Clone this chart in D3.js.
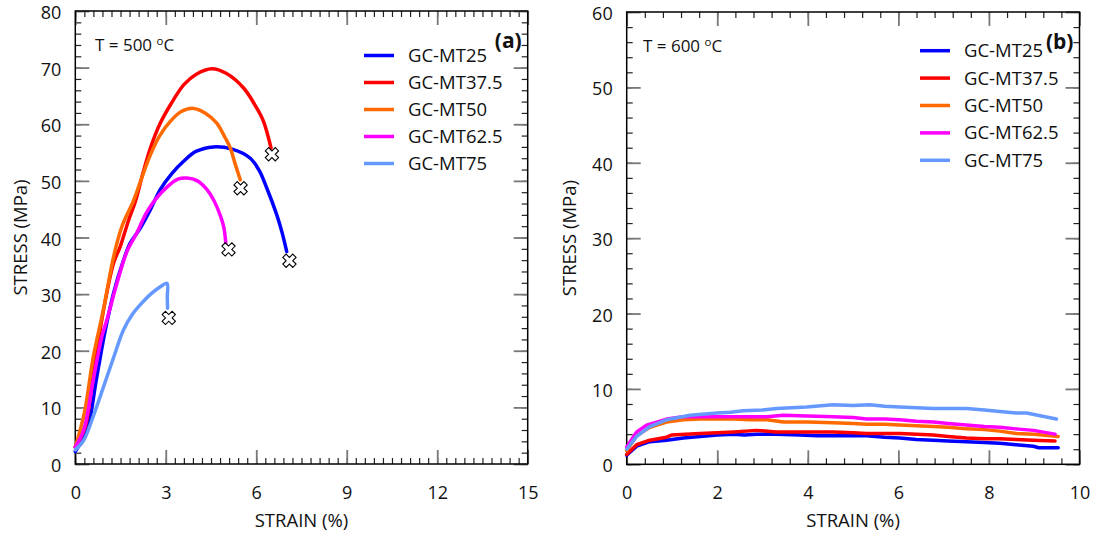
<!DOCTYPE html>
<html>
<head>
<meta charset="utf-8">
<script src="https://cdn.jsdelivr.net/npm/d3@7"></script>
<style>
  body { margin: 0; background: #fff; }
  svg text { font-family: "Open Sans", sans-serif; fill: #111; }
</style>
</head>
<body>
<svg id="chart" width="1096" height="535"></svg>
<script>
'use strict';

// series names and colours (shared by both panels)
const seriesNames = ['GC-MT25', 'GC-MT37.5', 'GC-MT50', 'GC-MT62.5', 'GC-MT75'];
const seriesColors = ['#0000ff', '#ff0000', '#ff6a00', '#ff00ff', '#6699ff'];

// T = 500 C, [strain %, stress MPa]
const mt25_500 = [[0, 2.2], [0.39, 6], [0.7, 15], [0.99, 23.5], [1.27, 30.2], [1.6, 36], [1.82, 39], [2.15, 41.6],
  [2.45, 44.5], [2.82, 48.5], [3.2, 51.3], [3.6, 53.5], [4.0, 55.2], [4.58, 56], [5.2, 55.6], [5.8, 54],
  [6.1, 51.8], [6.35, 48.7], [6.68, 44], [6.85, 41], [7.01, 37.5]];
const mt375_500 = [[0, 3], [0.33, 6.6], [0.55, 14], [0.77, 21.9], [1.0, 29], [1.27, 35.5], [1.49, 38.4], [1.77, 43.1],
  [1.99, 46.3], [2.25, 51.5], [2.49, 55.8], [2.8, 60], [3.15, 63.4], [3.6, 67], [4.0, 68.8], [4.53, 69.8],
  [5.0, 69], [5.58, 66.4], [6.0, 63], [6.24, 60.5], [6.49, 55.8]];
const mt50_500 = [[0, 3], [0.3, 9], [0.6, 19], [0.94, 27.5], [1.27, 36.6], [1.55, 42], [1.93, 46.5], [2.2, 50.5],
  [2.49, 54.6], [2.8, 58], [3.15, 60.5], [3.5, 62.2], [3.92, 62.8], [4.3, 62], [4.69, 60.2], [4.95, 57.8],
  [5.14, 55.8], [5.3, 53], [5.47, 50.2]];
const mt625_500 = [[0, 3], [0.28, 6], [0.6, 15], [0.88, 22.5], [1.05, 25.5], [1.38, 31.9], [1.71, 37.5], [2.04, 40.8],
  [2.37, 44.5], [2.7, 47], [3.04, 48.9], [3.4, 50.3], [3.7, 50.5], [4.05, 50], [4.36, 48.5], [4.6, 46.5],
  [4.8, 44], [4.92, 41.9], [4.99, 39]];
const mt75_500 = [[0, 2.5], [0.28, 4.2], [0.6, 8.5], [0.94, 13.7], [1.27, 18.8], [1.6, 23.7], [1.9, 26.5],
  [2.15, 28.1], [2.5, 30], [2.82, 31.3], [3.04, 31.9], [3.05, 29.5], [3.06, 27.5]];
// fracture points (x markers)
const fracture_500 = [[7.1, 35.9], [6.52, 54.7], [5.48, 48.7], [5.08, 37.9], [3.1, 25.8]];

// T = 600 C
const mt25_600 = [[0, 1.2], [0.22, 2.4], [0.51, 3.0], [0.88, 3.2], [1.25, 3.5], [1.62, 3.7], [2.0, 3.9], [2.36, 4.0],
  [2.6, 3.9], [2.87, 4.0], [3.3, 4.0], [3.83, 3.9], [4.2, 3.8], [4.56, 3.8], [5.0, 3.8], [5.3, 3.8], [5.7, 3.6],
  [6.03, 3.5], [6.4, 3.3], [6.77, 3.2], [7.1, 3.1], [7.5, 3.0], [7.9, 2.9], [8.24, 2.8], [8.6, 2.6], [8.98, 2.4],
  [9.1, 2.2], [9.53, 2.2]];
const mt375_600 = [[0, 1.3], [0.22, 2.6], [0.51, 3.2], [0.88, 3.6], [1.0, 3.9], [1.3, 4.0], [1.62, 4.1], [2.0, 4.2],
  [2.36, 4.3], [2.87, 4.5], [3.3, 4.3], [3.83, 4.3], [4.2, 4.3], [4.56, 4.3], [5.0, 4.2], [5.3, 4.1], [5.7, 4.1],
  [6.03, 4.1], [6.4, 4.0], [6.77, 3.9], [7.1, 3.7], [7.5, 3.5], [7.9, 3.4], [8.24, 3.4], [8.6, 3.3], [8.98, 3.2],
  [9.46, 3.1]];
const mt50_600 = [[0, 1.8], [0.22, 3.8], [0.51, 4.9], [0.88, 5.6], [1.25, 5.9], [1.62, 6.0], [2.0, 6.0], [2.36, 6.0],
  [2.72, 5.9], [3.1, 5.9], [3.46, 5.6], [4.0, 5.6], [4.56, 5.5], [5.0, 5.4], [5.3, 5.3], [5.7, 5.3], [6.03, 5.2],
  [6.4, 5.1], [6.77, 5.0], [7.1, 4.9], [7.5, 4.7], [7.9, 4.6], [8.24, 4.4], [8.6, 4.1], [9.0, 4.0], [9.53, 3.7]];
const mt625_600 = [[0, 2.3], [0.22, 4.3], [0.44, 5.2], [0.88, 6.0], [1.25, 6.3], [1.62, 6.3], [1.99, 6.3],
  [2.36, 6.3], [2.72, 6.3], [3.1, 6.3], [3.46, 6.5], [4.0, 6.4], [4.56, 6.3], [5.0, 6.2], [5.3, 6.0], [5.7, 6.0],
  [6.03, 5.9], [6.4, 5.7], [6.77, 5.6], [7.1, 5.4], [7.5, 5.2], [7.9, 5.0], [8.24, 4.9], [8.6, 4.7], [8.98, 4.5],
  [9.46, 4.0]];
const mt75_600 = [[0, 2.0], [0.22, 3.7], [0.51, 5.0], [0.88, 5.9], [1.4, 6.5], [1.99, 6.8], [2.3, 6.9], [2.57, 7.1],
  [3.0, 7.2], [3.31, 7.4], [3.97, 7.6], [4.56, 7.9], [5.0, 7.8], [5.37, 7.9], [5.7, 7.7], [6.03, 7.6], [6.4, 7.5],
  [6.77, 7.4], [7.1, 7.4], [7.5, 7.4], [7.9, 7.2], [8.24, 7.0], [8.6, 6.8], [8.83, 6.8], [9.49, 6.0]];

const svg = d3.select('#chart');
const FONT = 18.5;

/**
 * Draw one stress/strain panel
 */
function drawPanel (opts) {
  const { left, right, top, bottom, xMax, xStep, xMinor, yMax, yStep, yMinor } = opts;

  const x = d3.scaleLinear().domain([0, xMax]).range([left, right]);
  const y = d3.scaleLinear().domain([0, yMax]).range([bottom, top]);
  const g = svg.append('g');

  const majorX = d3.range(0, xMax + 1e-9, xStep);
  const minorX = d3.range(0, xMax + 1e-9, xMinor);
  const majorY = d3.range(0, yMax + 1e-9, yStep);
  const minorY = d3.range(0, yMax + 1e-9, yMinor);

  // minor ticks on all sides
  const minor = [
    [d3.axisBottom(x).tickValues(minorX), `translate(0,${bottom})`],
    [d3.axisTop(x).tickValues(minorX), `translate(0,${top})`],
    [d3.axisLeft(y).tickValues(minorY), `translate(${left},0)`],
    [d3.axisRight(y).tickValues(minorY), `translate(${right},0)`]
  ];
  minor.forEach(([ax, tr]) => {
    const a = g.append('g').attr('transform', tr)
      .call(ax.tickSize(-6).tickFormat(''));
    a.select('.domain').remove();
    a.selectAll('line').attr('stroke', '#222').attr('stroke-width', 1.2);
  });

  // major ticks
  const major = [
    [d3.axisBottom(x).tickValues(majorX).tickFormat(d3.format('d')).tickPadding(22), `translate(0,${bottom})`],
    [d3.axisTop(x).tickValues(majorX).tickFormat(''), `translate(0,${top})`],
    [d3.axisLeft(y).tickValues(majorY).tickFormat(d3.format('d')).tickPadding(14), `translate(${left},0)`],
    [d3.axisRight(y).tickValues(majorY).tickFormat(''), `translate(${right},0)`]
  ];
  major.forEach(([ax, tr], k) => {
    const a = g.append('g').attr('transform', tr).call(ax.tickSize(-14));
    a.select('.domain').remove();
    a.selectAll('line').attr('stroke', '#777').attr('stroke-width', 1.8);
    a.selectAll('text').attr('font-family', '"Open Sans", sans-serif')
      .attr('font-size', 18).attr('fill', '#111');
    if (k === 2) a.selectAll('text').attr('dy', '0.42em');
  });

  // frame
  g.append('rect')
    .attr('x', left).attr('y', top)
    .attr('width', right - left).attr('height', bottom - top)
    .attr('fill', 'none').attr('stroke', '#000').attr('stroke-width', 1.5);

  // curves
  const line = d3.line()
    .x(d => x(d[0]))
    .y(d => y(d[1]))
    .curve(opts.curve);

  g.append('g').selectAll('path')
    .data(opts.series)
    .enter().append('path')
    .attr('d', line)
    .attr('fill', 'none')
    .attr('stroke', (d, i) => seriesColors[i])
    .attr('stroke-width', 3.5)
    .attr('stroke-linejoin', 'round')
    .attr('stroke-linecap', 'round');

  // fracture markers
  if (opts.fracture) {
    g.append('g').selectAll('path')
      .data(opts.fracture)
      .enter().append('path')
      .attr('transform', d => `translate(${x(d[0])},${y(d[1])}) rotate(45)`)
      .attr('d', d3.symbol(d3.symbolCross, 110))
      .attr('fill', '#fff')
      .attr('stroke', '#000')
      .attr('stroke-width', 1.1);
  }

  // legend
  const lg = g.append('g');
  seriesNames.forEach((name, i) => {
    const ly = opts.legendY + i * opts.legendStep;
    lg.append('line')
      .attr('x1', opts.legendX).attr('x2', opts.legendX + 30)
      .attr('y1', ly).attr('y2', ly)
      .attr('stroke', seriesColors[i]).attr('stroke-width', 3.5);
    lg.append('text')
      .attr('x', opts.legendX + 44).attr('y', ly + 6.5)
      .attr('font-size', FONT)
      .text(name);
  });

  // temperature label
  const t = g.append('text')
    .attr('x', opts.tempX).attr('y', opts.tempY)
    .attr('font-size', 17);
  t.append('tspan').text(`T = ${opts.temp} `);
  t.append('tspan').attr('font-size', 11.5).attr('dy', -6.5).text('o');
  t.append('tspan').attr('dy', 6.5).text('C');

  // panel label
  g.append('text')
    .attr('x', right - 6).attr('y', top + 37)
    .attr('text-anchor', 'end')
    .attr('font-size', 21).attr('font-weight', 'bold')
    .text(opts.tag);

  // axis titles
  g.append('text')
    .attr('x', (left + right) / 2).attr('y', 527)
    .attr('text-anchor', 'middle').attr('font-size', FONT)
    .text('STRAIN (%)');

  g.append('text')
    .attr('transform', `translate(${opts.yTitleX},${(top + bottom) / 2}) rotate(-90)`)
    .attr('text-anchor', 'middle').attr('font-size', FONT)
    .text('STRESS (MPa)');
}

drawPanel({
  left: 75.3, right: 527.7, top: 11, bottom: 464,
  xMax: 15, xStep: 3, xMinor: 0.3,
  yMax: 80, yStep: 10, yMinor: 2,
  series: [mt25_500, mt375_500, mt50_500, mt625_500, mt75_500],
  fracture: fracture_500,
  curve: d3.curveCatmullRom.alpha(0.5),
  legendX: 364, legendY: 55.5, legendStep: 27,
  temp: 500, tempX: 95, tempY: 51,
  tag: '(a)', yTitleX: 27
});

drawPanel({
  left: 626.7, right: 1079.5, top: 12, bottom: 464.3,
  xMax: 10, xStep: 2, xMinor: 0.4,
  yMax: 60, yStep: 10, yMinor: 2,
  series: [mt25_600, mt375_600, mt50_600, mt625_600, mt75_600],
  fracture: null,
  curve: d3.curveLinear,
  legendX: 920, legendY: 50.7, legendStep: 27.4,
  temp: 600, tempX: 643, tempY: 52,
  tag: '(b)', yTitleX: 576
});
</script>
</body>
</html>
